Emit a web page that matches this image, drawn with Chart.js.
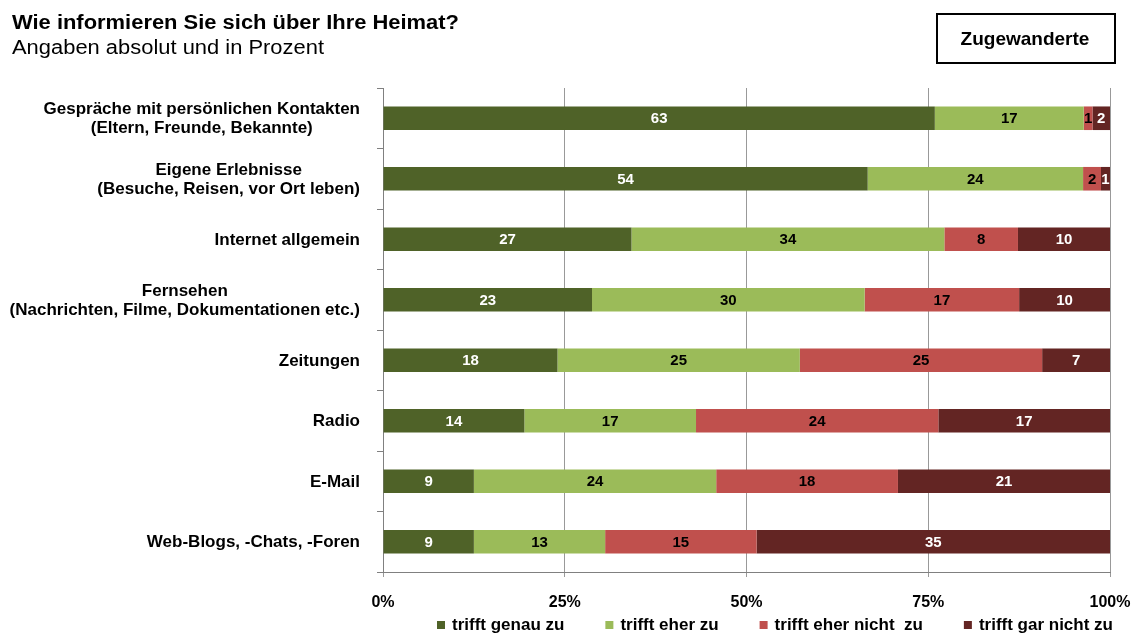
<!DOCTYPE html>
<html lang="de">
<head>
<meta charset="utf-8">
<title>Wie informieren Sie sich über Ihre Heimat?</title>
<script src="https://cdn.jsdelivr.net/npm/chart.js@4.4.0/dist/chart.umd.min.js"></script>
<style>
  html, body { margin: 0; padding: 0; background: #ffffff; }
  #wrap { position: relative; width: 1140px; height: 634px; }
</style>
</head>
<body>
<div id="wrap"><canvas id="chart" width="1140" height="634"></canvas></div>
<script>
// Survey sources, each row split into four answer levels (absolute counts)
const categories = [
  ['Gespräche mit persönlichen Kontakten', '(Eltern, Freunde, Bekannte)'],
  ['Eigene Erlebnisse', '(Besuche, Reisen, vor Ort leben)'],
  ['Internet allgemein'],
  ['Fernsehen', '(Nachrichten, Filme, Dokumentationen etc.)'],
  ['Zeitungen'],
  ['Radio'],
  ['E-Mail'],
  ['Web-Blogs, -Chats, -Foren']
];
const seriesNames = ['trifft genau zu', 'trifft eher zu', 'trifft eher nicht  zu', 'trifft gar nicht zu'];
const genauZu     = [63, 54, 27, 23, 18, 14,  9,  9];
const eherZu      = [17, 24, 34, 30, 25, 17, 24, 13];
const eherNichtZu = [ 1,  2,  8, 17, 25, 24, 18, 15];
const garNichtZu  = [ 2,  1, 10, 10,  7, 17, 21, 35];
const xTicks = [0, 25, 50, 75, 100];

const titleText = 'Wie informieren Sie sich über Ihre Heimat?';
const subtitleText = 'Angaben absolut und in Prozent';
const groupText = 'Zugewanderte';

const seriesColors = ['#4F6228', '#9BBB59', '#C0504D', '#632523'];
const labelColors  = ['#ffffff', '#000000', '#000000', '#ffffff'];
const FONT = '"Liberation Sans", Arial, Helvetica, sans-serif';

const counts = [genauZu, eherZu, eherNichtZu, garNichtZu];
const rowTotals = categories.map((_, i) => counts.reduce((s, arr) => s + arr[i], 0));
// share of each answer within its row, in percent
const shares = counts.map(arr => arr.map((v, i) => v / rowTotals[i] * 100));

const datasets = counts.map((arr, k) => ({
  label: seriesNames[k],
  data: shares[k],
  counts: arr,
  backgroundColor: seriesColors[k],
  borderWidth: 0,
  barPercentage: 0.39,
  categoryPercentage: 1.0
}));

// draws text stretched horizontally to a given width
function fillStretched(ctx, text, x, y, width) {
  const w = ctx.measureText(text).width;
  ctx.save();
  ctx.translate(x, y);
  ctx.scale(width / w, 1);
  ctx.fillText(text, 0, 0);
  ctx.restore();
}

// Header: title, subtitle and the group box
const headerPlugin = {
  id: 'header',
  afterDraw(chart) {
    const ctx = chart.ctx;
    ctx.save();
    ctx.fillStyle = '#000';
    ctx.textAlign = 'left';
    ctx.textBaseline = 'alphabetic';
    ctx.font = 'bold 20px ' + FONT;
    fillStretched(ctx, titleText, 12, 29, 447);
    ctx.font = '20px ' + FONT;
    fillStretched(ctx, subtitleText, 12, 54, 312);

    ctx.lineWidth = 2;
    ctx.strokeStyle = '#000';
    ctx.strokeRect(937, 14, 178, 49);
    ctx.font = 'bold 19px ' + FONT;
    ctx.textAlign = 'center';
    ctx.textBaseline = 'middle';
    ctx.fillText(groupText, 1025, 40);
    ctx.restore();
  }
};

// Category labels: lines centred on each other, block right-aligned to the axis
const categoryLabelPlugin = {
  id: 'categoryLabels',
  afterDraw(chart) {
    const ctx = chart.ctx;
    const yScale = chart.scales.y;
    const right = chart.chartArea.left - 23;
    const lineH = 19;
    ctx.save();
    ctx.font = 'bold 17px ' + FONT;
    ctx.fillStyle = '#000';
    ctx.textAlign = 'center';
    ctx.textBaseline = 'middle';
    categories.forEach((lines, i) => {
      const cy = yScale.getPixelForValue(i) + 1;
      const w = Math.max(...lines.map(l => ctx.measureText(l).width));
      const cx = right - w / 2;
      const y0 = cy - (lines.length - 1) * lineH / 2;
      lines.forEach((l, j) => ctx.fillText(l, cx, y0 + j * lineH));
    });
    ctx.restore();
  }
};

// Absolute counts written in the middle of each bar segment
const valueLabelPlugin = {
  id: 'valueLabels',
  afterDatasetsDraw(chart) {
    const ctx = chart.ctx;
    ctx.save();
    ctx.font = 'bold 15px ' + FONT;
    ctx.textAlign = 'center';
    ctx.textBaseline = 'middle';
    chart.data.datasets.forEach((ds, k) => {
      const meta = chart.getDatasetMeta(k);
      ctx.fillStyle = labelColors[k];
      meta.data.forEach((el, i) => {
        const p = el.getProps(['x', 'y', 'base'], true);
        ctx.fillText(String(ds.counts[i]), (p.x + p.base) / 2, p.y + 1);
      });
    });
    ctx.restore();
  }
};

// Legend row under the axis
const legendPlugin = {
  id: 'bottomLegend',
  afterDraw(chart) {
    const ctx = chart.ctx;
    ctx.save();
    ctx.font = 'bold 17px ' + FONT;
    ctx.textAlign = 'left';
    ctx.textBaseline = 'middle';
    let x = 437;
    const cy = 625;
    chart.data.datasets.forEach((ds, k) => {
      ctx.fillStyle = seriesColors[k];
      ctx.fillRect(x, cy - 4, 8, 8);
      ctx.fillStyle = '#000';
      ctx.fillText(ds.label, x + 15, cy);
      x += 15 + ctx.measureText(ds.label).width + 41;
    });
    ctx.restore();
  }
};

new Chart(document.getElementById('chart'), {
  type: 'bar',
  data: { labels: categories.map(l => l.join(' ')), datasets },
  plugins: [headerPlugin, categoryLabelPlugin, valueLabelPlugin, legendPlugin],
  options: {
    responsive: false,
    animation: false,
    indexAxis: 'y',
    layout: { padding: { top: 88, right: 30, bottom: 0, left: 0 } },
    plugins: {
      legend: { display: false },
      title: { display: false },
      tooltip: { enabled: false }
    },
    scales: {
      x: {
        stacked: true,
        min: 0,
        max: 100,
        afterBuildTicks(scale) { scale.ticks = xTicks.map(v => ({ value: v })); },
        afterFit(scale) {
          scale.height = 62;
          scale.paddingLeft = 0;
          scale.paddingRight = 0;
        },
        ticks: {
          callback: v => v + '%',
          color: '#000',
          padding: 16,
          maxRotation: 0,
          font: { family: FONT, size: 16, weight: 'bold' }
        },
        grid: { color: '#999999', lineWidth: 1, tickLength: 5, drawTicks: true },
        border: { color: '#808080', width: 1 }
      },
      y: {
        stacked: true,
        afterFit(scale) { scale.width = 383; },
        ticks: { display: false },
        grid: { drawOnChartArea: false, drawTicks: true, tickLength: 6, color: '#808080', offset: true },
        border: { color: '#808080', width: 1 }
      }
    }
  }
});
</script>
</body>
</html>
